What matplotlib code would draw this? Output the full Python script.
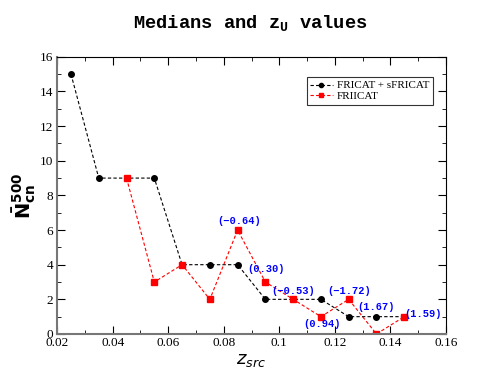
import numpy as np
import matplotlib.pyplot as plt
from matplotlib.ticker import MultipleLocator

# data
z_black = [0.025, 0.035, 0.045, 0.055, 0.065, 0.075, 0.085, 0.095, 0.105, 0.115, 0.125, 0.135, 0.145]
n_black = [15, 9, 9, 9, 4, 4, 4, 2, 2, 2, 1, 1, 1]
z_red = [0.045, 0.055, 0.065, 0.075, 0.085, 0.095, 0.105, 0.115, 0.125, 0.135, 0.145]
n_red = [9, 3, 4, 2, 6, 3, 2, 1, 2, 0, 1]

# z_U labels: (text, x, y) in data coords
zu_text = ["(\u22120.64)", "(0.30)", "(\u22120.53)", "(0.94)", "(\u22121.72)", "(1.67)", "(1.59)"]
zu_x = [0.0855, 0.0952, 0.1051, 0.1155, 0.1253, 0.1350, 0.1517]
zu_y = [6.55, 3.75, 2.48, 0.58, 2.48, 1.56, 1.16]

fig = plt.figure(figsize=(5.01, 3.92), dpi=100)
ax = fig.add_axes([0.114, 0.148, 0.776, 0.707])

ax.plot(z_black, n_black, 'k--', lw=0.8, marker='o', ms=4, dashes=(3, 2),
        label='FRICAT + sFRICAT')
ax.plot(z_red, n_red, color='red', ls='--', lw=0.8, marker='s', ms=4, dashes=(3, 2),
        label='FRIICAT')

for t, x, y in zip(zu_text, zu_x, zu_y):
    ax.text(x, y, t, color='blue', fontsize=7.5, fontweight='bold',
            family='Liberation Mono', ha='center', va='center')

ax.set_xlim(0.02, 0.16)
ax.set_ylim(0, 16)
ax.xaxis.set_minor_locator(MultipleLocator(0.01))
ax.yaxis.set_major_locator(MultipleLocator(2))
ax.yaxis.set_minor_locator(MultipleLocator(1))
ax.set_xticks(np.arange(0.02, 0.161, 0.02))
ax.set_xticklabels(['0.02', '0.04', '0.06', '0.08', '0.1', '0.12', '0.14', '0.16'])
ax.tick_params(which='both', direction='in', top=True, right=True,
               labelsize=9.5, pad=2)
ax.tick_params(axis='y', which='major', pad=3)
ax.tick_params(which='major', length=6)
ax.tick_params(which='minor', length=3)
for lab in ax.get_xticklabels() + ax.get_yticklabels():
    lab.set_family('Liberation Serif')
for s in ['left', 'bottom']:
    ax.spines[s].set_color('#777777')
    ax.spines[s].set_linewidth(1.5)

ax.set_xlabel(r'$z_{src}$', fontsize=13, family='Liberation Serif', labelpad=2)
ax.set_ylabel(r'$\mathbf{\bar{N}_{cn}^{500}}$', fontsize=14, labelpad=1)

fig.suptitle(r'Medians and z$_\mathregular{U}$ values', family='Liberation Mono',
             fontweight='bold', fontsize=13.5, y=0.965)

leg = ax.legend(loc='upper right', bbox_to_anchor=(0.966, 0.926),
                prop={'family': 'Liberation Serif', 'size': 8},
                frameon=True, fancybox=False, edgecolor='black',
                handlelength=2.0, handletextpad=0.4, borderpad=0.3,
                labelspacing=0.1, markerscale=0.75, borderaxespad=0)
leg.get_frame().set_linewidth(0.8)

fig.savefig('out.png', dpi=100)
